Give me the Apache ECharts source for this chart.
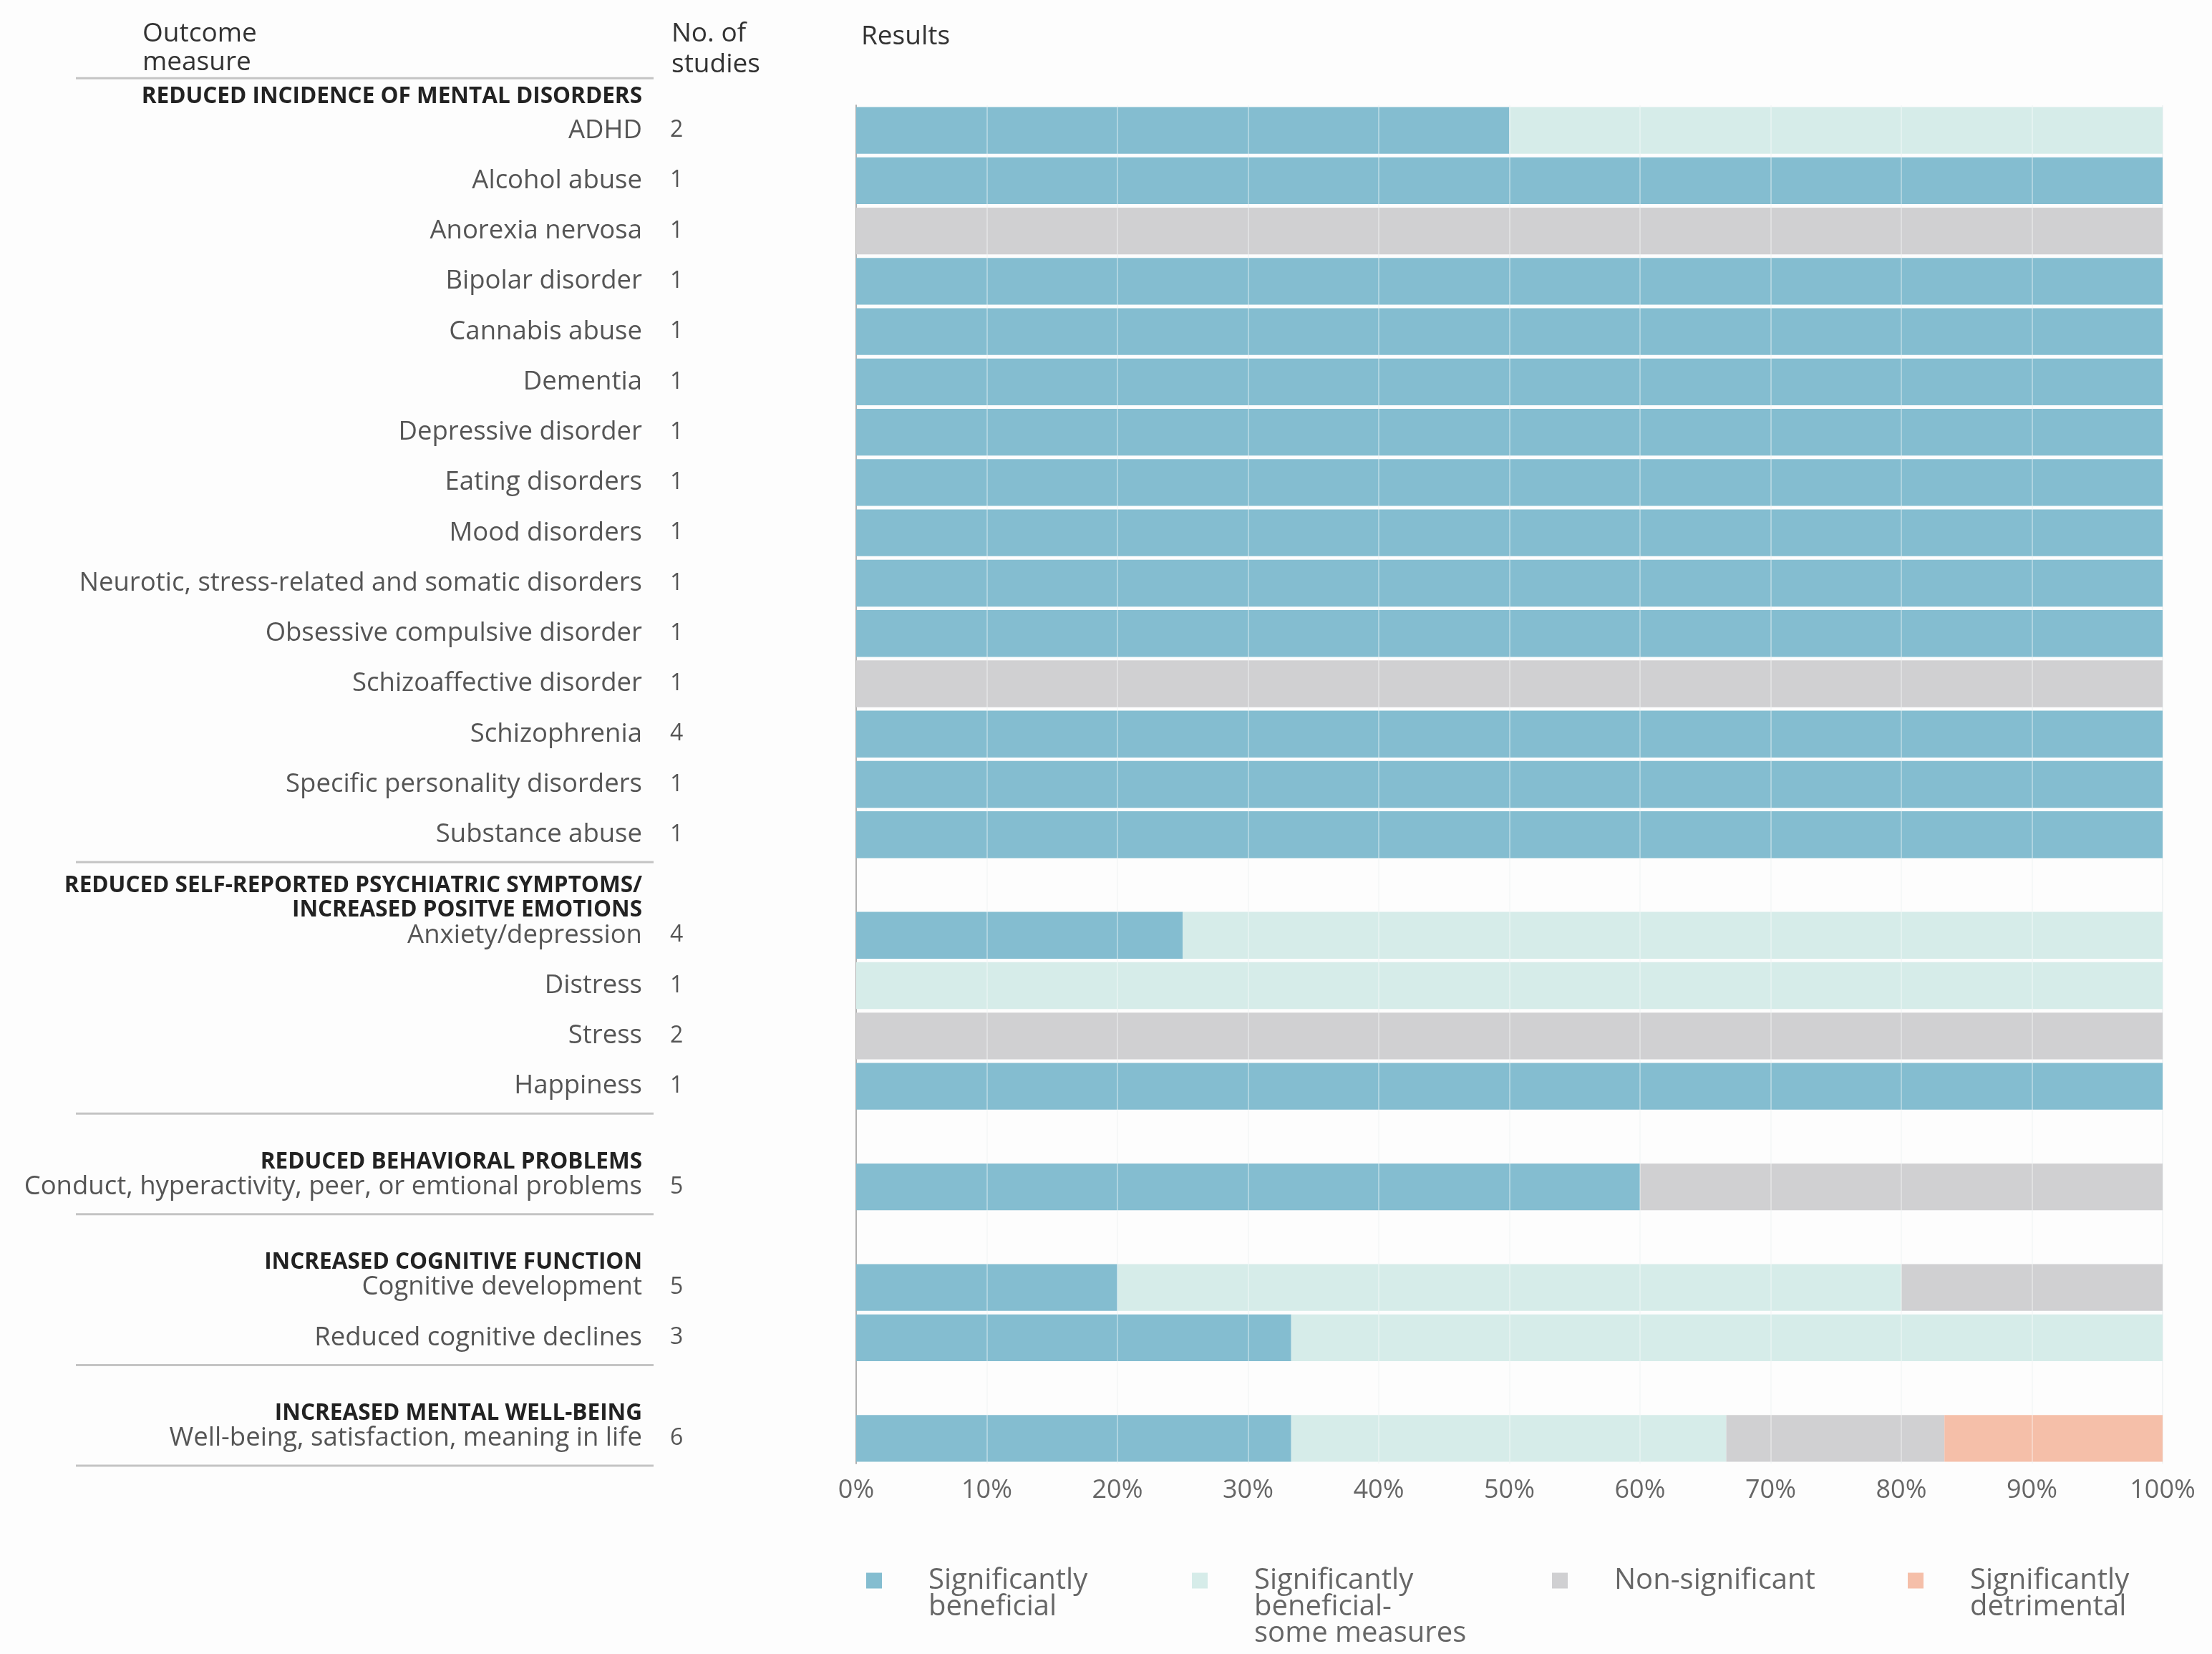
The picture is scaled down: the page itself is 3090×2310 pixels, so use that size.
<!DOCTYPE html>
<html><head><meta charset="utf-8">
<script src="https://cdn.jsdelivr.net/npm/echarts@6/dist/echarts.min.js"></script>
<style>html,body{margin:0;padding:0;background:#fdfdfd}#c{width:3090px;height:2310px}</style>
</head><body><div id="c"></div>
<script>
// ---------- data ----------
const categories = [
  'ADHD','Alcohol abuse','Anorexia nervosa','Bipolar disorder','Cannabis abuse','Dementia',
  'Depressive disorder','Eating disorders','Mood disorders','Neurotic, stress-related and somatic disorders',
  'Obsessive compulsive disorder','Schizoaffective disorder','Schizophrenia','Specific personality disorders',
  'Substance abuse','_gap1',
  'Anxiety/depression','Distress','Stress','Happiness','_gap2',
  'Conduct, hyperactivity, peer, or emtional problems','_gap3',
  'Cognitive development','Reduced cognitive declines','_gap4',
  'Well-being, satisfaction, meaning in life'
];
const studyCounts = ['2','1','1','1','1','1','1','1','1','1','1','1','4','1','1','',
  '4','1','2','1','', '5','', '5','3','', '6'];
const sigBeneficial     = [50,100,0,100,100,100,100,100,100,100,100,0,100,100,100,'-', 25,0,0,100,'-', 60,'-', 20,33.3,'-', 33.3];
const sigBeneficialSome = [50,0,0,0,0,0,0,0,0,0,0,0,0,0,0,'-', 75,100,0,0,'-', 0,'-', 60,66.7,'-', 33.3];
const nonSignificant    = [0,0,100,0,0,0,0,0,0,0,0,100,0,0,0,'-', 0,0,100,0,'-', 40,'-', 20,0,'-', 16.7];
const sigDetrimental    = [0,0,0,0,0,0,0,0,0,0,0,0,0,0,0,'-', 0,0,0,0,'-', 0,'-', 0,0,'-', 16.7];
const seriesNames = ['Significantly\nbeneficial','Significantly\nbeneficial-\nsome measures','Non-significant','Significantly\ndetrimental'];
const seriesColors = ['#84bdd0','#d6ece9','#d0d0d2','#f5bfa9'];
const xTickLabels = ['0%','10%','20%','30%','40%','50%','60%','70%','80%','90%','100%'];
const groups = [
  {title:'REDUCED INCIDENCE OF MENTAL DISORDERS', first:'ADHD', last:'Substance abuse'},
  {title:'REDUCED SELF-REPORTED PSYCHIATRIC SYMPTOMS/\nINCREASED POSITVE EMOTIONS', first:'Anxiety/depression', last:'Happiness'},
  {title:'REDUCED BEHAVIORAL PROBLEMS', first:'Conduct, hyperactivity, peer, or emtional problems', last:'Conduct, hyperactivity, peer, or emtional problems'},
  {title:'INCREASED COGNITIVE FUNCTION', first:'Cognitive development', last:'Reduced cognitive declines'},
  {title:'INCREASED MENTAL WELL-BEING', first:'Well-being, satisfaction, meaning in life', last:'Well-being, satisfaction, meaning in life'}
];

// ---------- chart ----------
const FONT = '"Open Sans", sans-serif';
const chart = echarts.init(document.getElementById('c'), null, {renderer:'canvas'});
const seriesData = [sigBeneficial, sigBeneficialSome, nonSignificant, sigDetrimental];
const legendLeft = [1210, 1665, 2168, 2665];
const ICON_TOP = 2195, LH = 37;

const option = {
  backgroundColor: '#fdfdfd',
  animation: false,
  title: [
    {text:'Outcome\nmeasure', left:199, top:27, padding:0, textStyle:{fontFamily:FONT, fontSize:37, fontWeight:'normal', color:'#333', lineHeight:40}},
    {text:'No. of\nstudies', left:938, top:26, padding:0, textStyle:{fontFamily:FONT, fontSize:37, fontWeight:'normal', color:'#333', lineHeight:43}},
    {text:'Results', left:1203, top:30, padding:0, textStyle:{fontFamily:FONT, fontSize:37, fontWeight:'normal', color:'#333', lineHeight:43}}
  ],
  legend: seriesNames.map((n, i) => {
    const k = n.split('\n').length;
    return {
      left: legendLeft[i], top: ICON_TOP + 11 - (2*k-1)*LH/2, padding: 0,
      itemWidth: 22, itemHeight: 22, icon: 'rect', selectedMode: false,
      formatter: (name) => '\n'.repeat(k-1) + name,
      data: [{name: n, textStyle: {padding: [0, 0, 0, 60]}}],
      textStyle: {fontFamily:FONT, fontSize:40, color:'#666', lineHeight:LH}
    };
  }),
  grid: {left:1196, right:69, top:147, bottom:266, containLabel:false},
  xAxis: {
    type:'value', min:0, max:100, interval:10,
    axisLine:{show:false}, axisTick:{show:false},
    splitLine:{show:true, lineStyle:{color:'#f1f4f5', width:2}},
    axisLabel:{formatter:(v)=>xTickLabels[Math.round(v/10)], fontFamily:FONT, fontSize:36, color:'#666', margin:20}
  },
  yAxis: [
    {
      type:'category', data:categories, inverse:true,
      axisLine:{show:true, lineStyle:{color:'#b0b0b0', width:2}},
      axisTick:{show:false},
      axisLabel:{interval:0, margin:299, fontFamily:FONT, fontSize:36.5, color:'#555',
        formatter:(v)=> v.startsWith('_gap') ? '' : v}
    },
    {
      type:'category', data:categories, inverse:true, position:'left',
      axisLine:{show:false}, axisTick:{show:false},
      axisLabel:{interval:0, margin:260, align:'left', fontFamily:FONT, fontSize:32, color:'#555',
        formatter:(v, idx)=> studyCounts[idx]}
    }
  ],
  series: seriesNames.map((n, i) => ({
    name:n, type:'bar', stack:'total', yAxisIndex:0, barCategoryGap:'7%',
    itemStyle:{color:seriesColors[i]},
    data: seriesData[i],
    markLine: i === 3 ? {
      silent:true, symbol:'none', label:{show:false},
      lineStyle:{color:'rgba(255,255,255,0.35)', width:2, type:'solid'},
      data:[10,20,30,40,50,60,70,80,90].map(v=>({xAxis:v}))
    } : undefined
  }))
};
chart.setOption(option);

// ---------- section headers & separators (positioned from the category axis) ----------
const yOf = (name) => chart.convertToPixel({yAxisIndex:0}, categories.indexOf(name));
const slot = Math.abs(yOf(categories[1]) - yOf(categories[0]));
const graphics = [];
const lineStyle = {stroke:'#c4c4c4', lineWidth:3};
const y0 = yOf(categories[0]);
graphics.push({type:'line', shape:{x1:106, y1:y0-73, x2:913, y2:y0-73}, style:lineStyle, silent:true});
groups.forEach((g, gi) => {
  const yf = yOf(g.first), yl = yOf(g.last);
  graphics.push({type:'text', x:897, y:yf - (gi === 0 ? 30 : 18), silent:true,
    style:{text:g.title, align:'right', verticalAlign:'bottom', fontFamily:FONT, fontSize:31.5, fontWeight:'bold', fill:'#222', lineHeight:34}});
  const ys = yl + slot/2 + 3;
  graphics.push({type:'line', shape:{x1:106, y1:ys, x2:913, y2:ys}, style:lineStyle, silent:true});
});
chart.setOption({graphic: graphics});
</script>
</body></html>
